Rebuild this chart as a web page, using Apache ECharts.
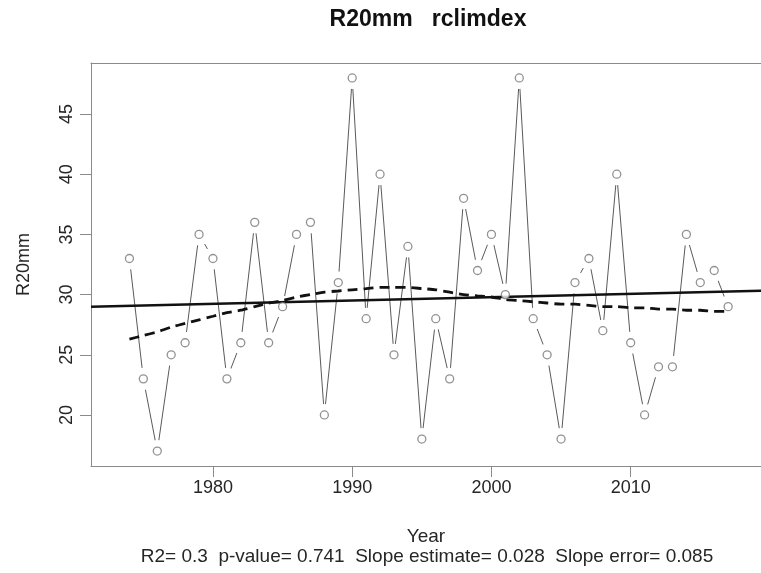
<!DOCTYPE html>
<html>
<head>
<meta charset="utf-8">
<script src="https://cdn.jsdelivr.net/npm/echarts@6.0.0/dist/echarts.min.js"></script>
<style>
  html, body { margin: 0; padding: 0; background: #fff; }
  #chart { width: 761px; height: 573px; }
</style>
</head>
<body>
<div id="chart"></div>
<script>
// R20mm index per year
const years = [
  1974, 1975, 1976, 1977, 1978, 1979, 1980, 1981, 1982, 1983, 1984,
  1985, 1986, 1987, 1988, 1989, 1990, 1991, 1992, 1993, 1994, 1995,
  1996, 1997, 1998, 1999, 2000, 2001, 2002, 2003, 2004, 2005, 2006,
  2007, 2008, 2009, 2010, 2011, 2012, 2013, 2014, 2015, 2016, 2017
];
const r20mm = [
  33, 23, 17, 25, 26, 35, 33, 23, 26, 36, 26,
  29, 35, 36, 20, 31, 48, 28, 40, 25, 34, 18,
  28, 23, 38, 32, 35, 30, 48, 28, 25, 18, 31,
  33, 27, 40, 26, 20, 24, 24, 35, 31, 32, 29
];
// local smoother (dashed), estimated per year
const lowess = [
  26.3, 26.6, 26.9, 27.3, 27.6, 27.9, 28.2, 28.5, 28.7, 29.0, 29.3,
  29.5, 29.8, 30.0, 30.2, 30.3, 30.4, 30.5, 30.6, 30.6, 30.6, 30.5,
  30.4, 30.2, 30.0, 29.9, 29.8, 29.6, 29.5, 29.4, 29.3, 29.2, 29.2,
  29.1, 29.0, 29.0, 28.9, 28.9, 28.8, 28.8, 28.7, 28.7, 28.6, 28.6
];
// linear trend (solid), across the whole x range
const trendYears = [1971.24, 2019.75];
const trendValues = [28.98, 30.33];

const xTicks = [1980, 1990, 2000, 2010];
const yTicks = [20, 25, 30, 35, 40, 45];

const statsLine = 'R2= 0.3  p-value= 0.741  Slope estimate= 0.028  Slope error= 0.085';

const font = '"Liberation Sans", Arial, sans-serif';
const ink = '#262626';
const frame = '#8a8a8a';

const pts = years.map((y, i) => [y, r20mm[i]]);
const smooth = years.map((y, i) => [y, lowess[i]]);
const trend = trendYears.map((y, i) => [y, trendValues[i]]);

const xMin = 1971.24, xMax = 2019.36;

const chart = echarts.init(document.getElementById('chart'), null, { renderer: 'canvas' });

chart.setOption({
  backgroundColor: '#fff',
  animation: false,
  title: [
    {
      text: 'R20mm   rclimdex',
      left: 428,
      top: 8,
      padding: 0,
      textAlign: 'center',
      textStyle: { fontFamily: font, fontSize: 23, fontWeight: 'bold', color: '#111' }
    },
    {
      text: statsLine,
      left: 427,
      top: 547,
      padding: 0,
      textAlign: 'center',
      textStyle: { fontFamily: font, fontSize: 19, fontWeight: 'normal', color: ink }
    }
  ],
  grid: {
    left: 91,
    top: 63,
    right: 0,
    height: 403,
    show: false
  },
  xAxis: [
    {
      type: 'value',
      min: xMin,
      max: xMax,
      name: 'Year',
      nameLocation: 'middle',
      nameGap: 61,
      nameTextStyle: { fontFamily: font, fontSize: 19, color: ink },
      axisLine: { show: true, onZero: false, lineStyle: { color: frame, width: 1 } },
      splitLine: { show: false },
      axisTick: {
        show: true, length: 11, customValues: xTicks,
        lineStyle: { color: frame, width: 1 }
      },
      axisLabel: {
        customValues: xTicks, margin: 13,
        formatter: (v) => String(v),
        fontFamily: font, fontSize: 18, color: ink
      }
    },
    {
      // top edge of the box
      type: 'value',
      position: 'top',
      min: xMin,
      max: xMax,
      axisLine: { show: true, onZero: false, lineStyle: { color: frame, width: 1 } },
      axisTick: { show: false },
      axisLabel: { show: false },
      splitLine: { show: false }
    }
  ],
  yAxis: {
    type: 'value',
    min: 15.76,
    max: 49.24,
    name: 'R20mm',
    nameLocation: 'middle',
    nameGap: 58,
    nameTextStyle: { fontFamily: font, fontSize: 18, color: ink },
    axisLine: { show: true, onZero: false, lineStyle: { color: frame, width: 1 } },
    splitLine: { show: false },
    axisTick: {
      show: true, length: 11, customValues: yTicks,
      lineStyle: { color: frame, width: 1 }
    },
    axisLabel: {
      customValues: yTicks, rotate: 90, margin: 15,
      fontFamily: font, fontSize: 18, color: ink
    }
  },
  series: [
    {
      name: 'R20mm',
      type: 'line',
      data: pts,
      showSymbol: false,
      lineStyle: { color: '#5a5a5a', width: 1 },
      z: 2,
      silent: true
    },
    {
      // white halo so the connecting line stops short of each point
      type: 'scatter',
      data: pts,
      symbol: 'circle',
      symbolSize: 22,
      itemStyle: { color: '#fff', opacity: 1 },
      z: 3,
      silent: true
    },
    {
      name: 'trend',
      type: 'line',
      data: trend,
      showSymbol: false,
      lineStyle: { color: '#111', width: 2.5 },
      z: 4,
      silent: true
    },
    {
      name: 'lowess',
      type: 'line',
      data: smooth,
      showSymbol: false,
      smooth: 0.2,
      lineStyle: { color: '#111', width: 2.8, type: [10, 6] },
      z: 4,
      silent: true
    },
    {
      name: 'points',
      type: 'scatter',
      data: pts,
      symbol: 'circle',
      symbolSize: 8,
      itemStyle: { color: '#fff', borderColor: '#777', borderWidth: 1.3 },
      z: 5,
      silent: true
    }
  ]
});
</script>
</body>
</html>
